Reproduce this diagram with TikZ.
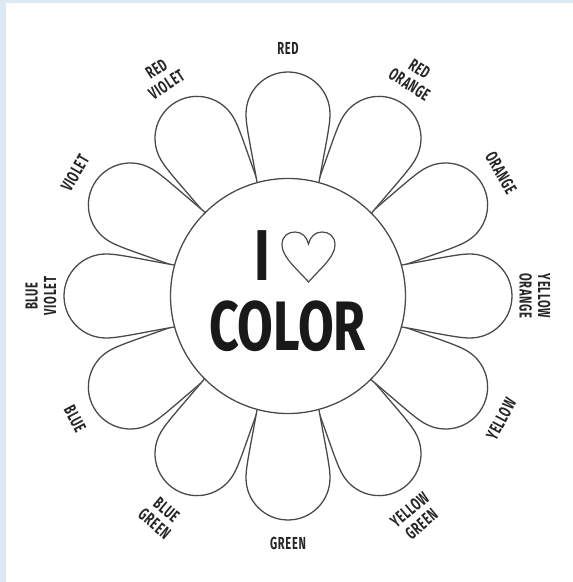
\documentclass[tikz,border=0pt]{standalone}
\usepackage{fontspec}
\usetikzlibrary{calc}
\newfontfamily\labelfont[FakeStretch=0.64, LetterSpace=4]{Fira Sans}
\newfontfamily\titlefont[FakeStretch=0.74]{Fira Sans}
\definecolor{framebg}{HTML}{DCE8F4}
\definecolor{ink}{HTML}{4A4A4A}
\begin{document}
\begin{tikzpicture}[x=1pt,y=1pt,
  outline/.style={draw=ink, line width=1.3pt, fill=white},
  hue/.style={font=\labelfont\bfseries\fontsize{17.4}{18.5}\selectfont,
    align=center, inner sep=0pt, text=black!85},
  flowerpetal/.pic={
    \draw[outline] (80,-25) .. controls (150,-37) and (168,-42) .. (182,-42)
      .. controls (205.2,-42) and (224,-23.2) .. (224,0)
      .. controls (224,23.2) and (205.2,42) .. (182,42)
      .. controls (168,42) and (150,37) .. (80,25) -- cycle;
  }]
\useasboundingbox (0,0) rectangle (573,582);
% page frame
\fill[framebg] (0,0) rectangle (573,582);
\fill[white] (6,0) rectangle (573,579);

\coordinate (c) at (288,286);

% petals: diagonal ones first, the four cardinal ones on top
\foreach \a in {30,60,120,150,210,240,300,330}
  \pic[rotate=\a] at (c) {flowerpetal};
\foreach \a in {0,90,180,270}
  \pic[rotate=\a] at (c) {flowerpetal};

% centre disc
\node[circle, outline, minimum size=235pt, inner sep=0pt] (disc) at (c) {};

% I <3 COLOR
\node[font=\titlefont\bfseries\fontsize{72}{72}\selectfont, inner sep=0pt, text=black!90]
  (eye) at (262.5,326) {I};
\node[font=\titlefont\bfseries\fontsize{70}{70}\selectfont, inner sep=0pt, text=black!90]
  (word) at (287.5,256) {COLOR};
\draw[ink, line width=1.2pt] (308.5,300)
  .. controls (298,312) and (282,325) .. (282,337)
  .. controls (282,346) and (288,350) .. (295,350)
  .. controls (302,350) and (307,345) .. (308.5,338)
  .. controls (310,345) and (315,350) .. (322,350)
  .. controls (329,350) and (335,346) .. (335,337)
  .. controls (335,325) and (319,312) .. (308.5,300) -- cycle;

% colour names around the flower
\node[hue] (red) at ($(c)+(90:248)$) {RED};
\node[hue, rotate=-33] (redorange) at ($(c)+(60:253)$) {RED\\ORANGE};
\node[hue, rotate=-60] (orange) at ($(c)+(30:246)$) {ORANGE};
\node[hue, rotate=-90] (yelloworange) at ($(c)+(0:247)$) {YELLOW\\ORANGE};
\node[hue, rotate=62] (yellow) at ($(c)+(-30:246)$) {YELLOW};
\node[hue, rotate=40] (yellowgreen) at ($(c)+(-60:255)$) {YELLOW\\GREEN};
\node[hue] (green) at ($(c)+(-90:247)$) {GREEN};
\node[hue, rotate=-40] (bluegreen) at ($(c)+(-120:255)$) {BLUE\\GREEN};
\node[hue, rotate=-62] (blue) at ($(c)+(-150:246)$) {BLUE};
\node[hue, rotate=90] (blueviolet) at ($(c)+(180:247)$) {BLUE\\VIOLET};
\node[hue, rotate=60] (violet) at ($(c)+(150:246)$) {VIOLET};
\node[hue, rotate=33] (redviolet) at ($(c)+(120:253)$) {RED\\VIOLET};
\end{tikzpicture}
\end{document}
